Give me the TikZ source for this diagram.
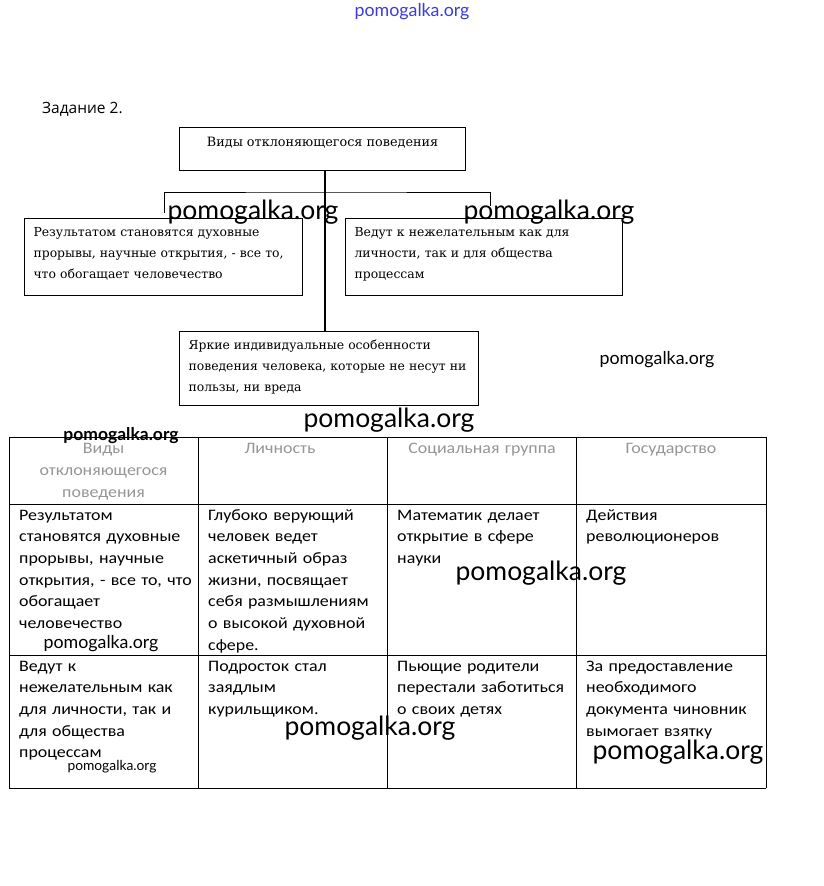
\documentclass[tikz,border=0pt]{standalone}
\usepackage{fontspec}
\setmainfont{DejaVu Serif}
\newfontfamily\cellfont[FakeStretch=1.12]{Carlito}
\newfontfamily\taskfont{Open Sans}
\newfontfamily\markfont{Lato}
\usetikzlibrary{positioning}
\definecolor{markblue}{RGB}{60,60,225}
\definecolor{fadegray}{RGB}{150,150,150}

\begin{document}
\begin{tikzpicture}[x=1pt,y=-1pt,
  box/.style  ={draw,line width=1.1pt,inner xsep=9pt,inner ysep=0pt,align=left,anchor=north west,font=\fontsize{12.4}{21}\selectfont},
  cell/.style ={anchor=base west,inner sep=0pt,text width=184pt,align=left,font=\cellfont\fontsize{16}{21.7}\selectfont},
  head/.style ={anchor=base,inner sep=0pt,text width=180pt,align=center,text=fadegray,font=\cellfont\fontsize{16}{22}\selectfont},
  wmark/.style={inner sep=0pt,font=\markfont\fontsize{26.5}{26.5}\selectfont},
  wsmall/.style={inner sep=0pt,font=\markfont\fontsize{17.8}{17.8}\selectfont},
  grid/.style ={line width=0.9pt}
]
\useasboundingbox[fill=white] (0,0) rectangle (823,886);

% heading
\node[anchor=base west,inner sep=0pt,font=\taskfont\fontsize{15.5}{15.5}\selectfont] (task) at (42,113) {Задание 2.};

% tree of boxes
\node[box,minimum width=286,text height=19pt,text depth=24pt,font=\fontsize{12.8}{21}\selectfont] (kinds) at (179,127) {Виды отклоняющегося поведения};
\node[box,text width=260pt,text height=18pt,text depth=59pt] (creative) at (24,218) {Результатом становятся духовные\\прорывы, научные открытия, - все то,\\что обогащает человечество};
\node[box,text width=259pt,text height=18pt,text depth=59pt] (harmful) at (345,218) {Ведут к нежелательным как для\\личности, так и для общества\\процессам};
\node[box,text width=281pt,text height=18pt,text depth=56pt] (neutral) at (179,331) {Яркие индивидуальные особенности\\поведения человека, которые не несут ни\\пользы, ни вреда};

\coordinate (fork) at (325,192);
\coordinate (lt) at (164,213);
\coordinate (rt) at (490,206);
\draw[line width=1.1pt] (fork |- kinds.south) -- (fork |- neutral.north);
\draw[line width=0.8pt] (lt) |- (fork) -| (rt);

% table
\foreach \x in {9,198,387,576,766}
  \draw[grid] (\x,437) -- (\x,788);
\foreach \y in {437,504,655,788}
  \draw[grid] (9,\y) -- (766,\y);

\node[head] (h1) at (103.5,453) {Виды\\отклоняющегося\\поведения};
\node[head] (h2) at (280,453) {Личность};
\node[head] (h3) at (482,453) {Социальная группа};
\node[head] (h4) at (671,453) {Государство};

\node[cell] (c11) at (19,520) {Результатом\\становятся духовные\\прорывы, научные\\открытия, - все то, что\\обогащает\\человечество};
\node[cell] (c12) at (208,520) {Глубоко верующий\\человек ведет\\аскетичный образ\\жизни, посвящает\\себя размышлениям\\о высокой духовной\\сфере.};
\node[cell] (c13) at (397,520) {Математик делает\\открытие в сфере\\науки};
\node[cell] (c14) at (586,520) {Действия\\революционеров};

\node[cell] (c21) at (19,671) {Ведут к\\нежелательным как\\для личности, так и\\для общества\\процессам};
\node[cell] (c22) at (208,671) {Подросток стал\\заядлым\\курильщиком.};
\node[cell] (c23) at (397,671) {Пьющие родители\\перестали заботиться\\о своих детях};
\node[cell] (c24) at (586,671) {За предоставление\\необходимого\\документа чиновник\\вымогает взятку};

% watermarks
\node[wsmall,text=markblue] (w0) at (412,12) {pomogalka.org};
\node[wmark] (w1) at (253,212) {pomogalka.org};
\node[wmark] (w2) at (549,212) {pomogalka.org};
\node[wsmall] (w3) at (657,360) {pomogalka.org};
\node[wmark] (w4) at (389,420) {pomogalka.org};
\node[wsmall,font=\markfont\bfseries\fontsize{17.5}{17.5}\selectfont] (w5) at (121,436) {pomogalka.org};
\node[wmark] (w6) at (541,573) {pomogalka.org};
\node[wsmall] (w7) at (101,644) {pomogalka.org};
\node[wmark] (w8) at (370,728) {pomogalka.org};
\node[wmark] (w9) at (678,752) {pomogalka.org};
\node[wsmall,font=\markfont\fontsize{13.8}{13.8}\selectfont] (w10) at (112,767) {pomogalka.org};
\end{tikzpicture}
\end{document}
